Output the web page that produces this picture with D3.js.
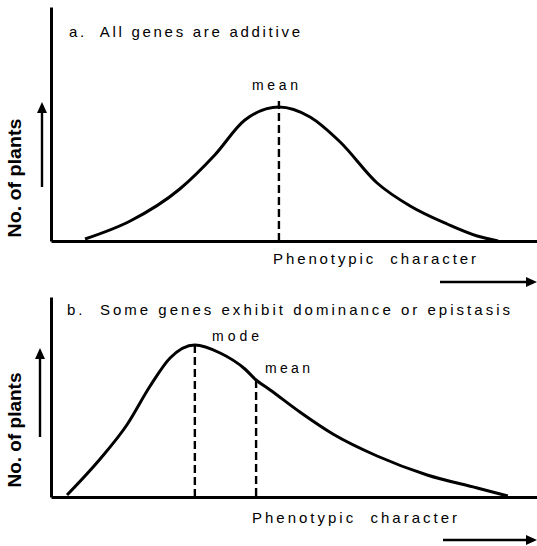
<!DOCTYPE html>
<html>
<head>
<meta charset="utf-8">
<script src="https://cdn.jsdelivr.net/npm/d3@7/dist/d3.min.js"></script>
<style>
  html, body { margin: 0; padding: 0; background: #fff; }
  svg { display: block; }
  text { font-family: "Liberation Sans", Arial, sans-serif; fill: #000; white-space: pre; }
</style>
</head>
<body>
<svg id="chart" width="537" height="546"></svg>
<script>
// Phenotypic value (arbitrary units) vs. relative number of plants
const additiveX = [7.0, 16.3, 26.5, 33.7, 39.9, 46.9, 53.3, 59.5, 67.1, 73.9, 81.5, 87.7, 92.0];
const additiveY = [1, 10, 26, 43, 60.5, 67, 62, 49.5, 29, 17.5, 8.5, 2.5, 0];
const additiveMean = 46.9;

const skewedX = [3.3, 10.1, 15.6, 20.4, 24.5, 29.6, 34.8, 39.9, 42.2, 45.1, 51.2, 58.0, 67.1, 77.4, 87.7, 94.0];
const skewedY = [1, 19, 36, 55.5, 69.5, 76, 72, 64, 58.5, 53.5, 42.5, 31.5, 20.5, 11, 4.5, 0.5];
const skewedMode = 29.6;
const skewedMean = 42.2;

const panelTitles = ["a.  All genes are additive", "b.  Some genes exhibit dominance or epistasis"];
const xLabel = "Phenotypic  character";
const yLabel = "No. of plants";

const svg = d3.select("#chart");
const x = d3.scaleLinear().domain([0, 100]).range([51, 537]);

function yAt(xs, ys, v) {
  return ys[xs.indexOf(v)];
}

function arrowHead(g, x0, y0, dir) {
  // filled triangular arrow head pointing right or up
  const L = 11, W = 5;
  const pts = dir === "right"
    ? [[x0, y0], [x0 - L, y0 - W], [x0 - L, y0 + W]]
    : [[x0, y0], [x0 - W, y0 + L], [x0 + W, y0 + L]];
  g.append("path").attr("d", d3.line()(pts) + "Z").attr("fill", "#000");
}

function panel(cfg) {
  const g = svg.append("g");
  const y = d3.scaleLinear().domain([0, 100]).range([cfg.base, cfg.base - 200]);

  // axes: plain L-shaped frame, no ticks
  const yAxis = d3.axisLeft(d3.scaleLinear().range([cfg.base, cfg.top])).ticks(0).tickSizeOuter(0);
  g.append("g").attr("transform", `translate(${x(0)},0)`).call(yAxis)
    .select(".domain").attr("stroke", "#000").attr("stroke-width", 3);
  const xAxis = d3.axisBottom(x).ticks(0).tickSizeOuter(0);
  g.append("g").attr("transform", `translate(0,${cfg.base})`).call(xAxis)
    .select(".domain").attr("stroke", "#000").attr("stroke-width", 3);

  // distribution curve
  const line = d3.line().x(d => x(d[0])).y(d => y(d[1])).curve(d3.curveMonotoneX);
  g.append("path")
    .datum(d3.zip(cfg.xs, cfg.ys))
    .attr("d", line)
    .attr("fill", "none").attr("stroke", "#000").attr("stroke-width", 3)
    .attr("stroke-linejoin", "round");

  // dashed markers
  cfg.markers.forEach(m => {
    g.append("line")
      .attr("x1", x(m.v)).attr("x2", x(m.v))
      .attr("y1", y(yAt(cfg.xs, cfg.ys, m.v)) - (m.over || 0)).attr("y2", cfg.base)
      .attr("stroke", "#000").attr("stroke-width", 2.4).attr("stroke-dasharray", "8,4");
    g.append("text")
      .attr("x", m.lx).attr("y", m.ly)
      .attr("textLength", m.lw).attr("lengthAdjust", "spacing")
      .style("font-size", "14px")
      .text(m.label);
  });

  // panel title
  g.append("text").attr("x", cfg.tx).attr("y", cfg.ty)
    .attr("textLength", cfg.tw).attr("lengthAdjust", "spacing")
    .style("font-size", "15px").text(cfg.title);

  // x label and arrow
  g.append("text").attr("x", cfg.xlx).attr("y", cfg.xly)
    .attr("textLength", cfg.xlw).attr("lengthAdjust", "spacing")
    .style("font-size", "15px").text(xLabel);
  g.append("line").attr("x1", cfg.ax0).attr("x2", 528).attr("y1", cfg.ay).attr("y2", cfg.ay)
    .attr("stroke", "#000").attr("stroke-width", 2.4);
  arrowHead(g, 537, cfg.ay, "right");

  // y label and arrow
  g.append("text")
    .attr("transform", `translate(21,${cfg.ylc}) rotate(-90)`)
    .attr("text-anchor", "middle")
    .attr("textLength", cfg.ylw).attr("lengthAdjust", "spacingAndGlyphs")
    .style("font-size", "18px").style("font-weight", "bold")
    .text(yLabel);
  g.append("line").attr("x1", cfg.vx).attr("x2", cfg.vx).attr("y1", cfg.vy1).attr("y2", cfg.vy0 + 8)
    .attr("stroke", "#000").attr("stroke-width", 2.4);
  arrowHead(g, cfg.vx, cfg.vy0, "up");
}

panel({
  top: 7, base: 241, xs: additiveX, ys: additiveY,
  markers: [{ v: additiveMean, label: "mean", lx: 252, ly: 90, lw: 46, over: 6 }],
  title: panelTitles[0], tx: 69, ty: 37, tw: 231,
  xlx: 273, xly: 264, xlw: 203, ax0: 440, ay: 282,
  ylc: 178, ylw: 119, vx: 42, vy0: 102, vy1: 187
});

panel({
  top: 297, base: 497, xs: skewedX, ys: skewedY,
  markers: [
    { v: skewedMode, label: "mode", lx: 212, ly: 341, lw: 47 },
    { v: skewedMean, label: "mean", lx: 265, ly: 373, lw: 45 }
  ],
  title: panelTitles[1], tx: 67, ty: 315, tw: 443,
  xlx: 252, xly: 523, xlw: 205, ax0: 443, ay: 540,
  ylc: 430, ylw: 115, vx: 40, vy0: 348, vy1: 437
});
</script>
</body>
</html>
